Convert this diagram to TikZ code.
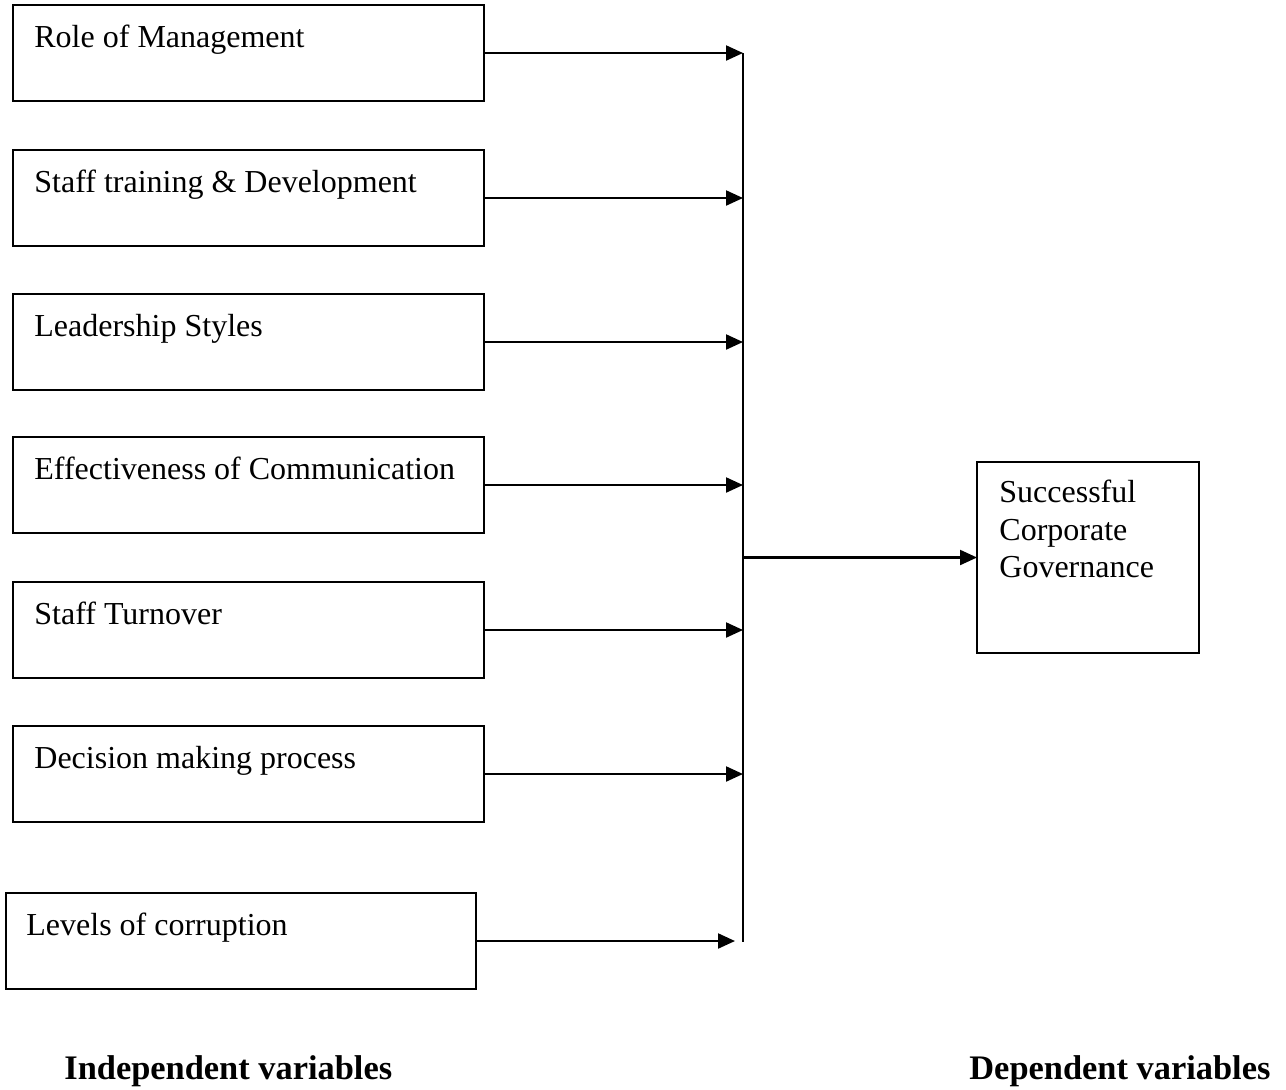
\documentclass[tikz,border=0pt]{standalone}
\usepackage{fontspec}
\setmainfont{Liberation Serif}
\usetikzlibrary{arrows.meta}
\begin{document}
\begin{tikzpicture}[x=0.5pt,y=-0.5pt,
  box/.style={draw,line width=0.9pt,inner sep=0pt,outer sep=0pt},
  lbl/.style={anchor=base west,inner sep=0pt,font=\fontsize{16}{18.75}\selectfont},
  blbl/.style={anchor=base west,inner sep=0pt,font=\fontsize{17.2}{20}\selectfont\bfseries},
  arr/.style={line width=1.1pt,-{Triangle[length=8.5pt,width=7.5pt]}},
  bus/.style={line width=1.1pt}]
\useasboundingbox (0,0) rectangle (1286,1089);
% left boxes
\foreach \i/\t/\txt in {1/5/Role of Management,2/150/Staff training \& Development,3/294/Leadership Styles,4/437/Effectiveness of Communication,5/582/Staff Turnover,6/726/Decision making process}{
  \node[box,minimum width=235.5pt,minimum height=48pt,anchor=north west] (b\i) at (13,\t) {};
  \node[lbl] (t\i) at ([xshift=10.5pt,yshift=-21pt]b\i.north west) {\txt};
}
\node[box,minimum width=235pt,minimum height=48pt,anchor=north west] (b7) at (6,893) {};
\node[lbl] (t7) at ([xshift=10pt,yshift=-21pt]b7.north west) {Levels of corruption};
% right box
\node[box,minimum width=111pt,minimum height=95.5pt,anchor=north west] (rb) at (977,462) {};
\node[lbl,align=left,anchor=north west] (rt) at ([xshift=11pt,yshift=-9pt]rb.north west) {Successful\\Corporate\\Governance};
% bus
\coordinate (top) at (743,53);
\coordinate (bot) at (743,942);
\draw[bus] (top) -- (bot);
\foreach \i in {1,...,6}{
  \coordinate (j\i) at (b\i.east -| top);
  \draw[arr] (b\i.east) -- (j\i);
}
\coordinate (j7) at ([xshift=-4pt]b7.east -| top);
\draw[arr] (b7.east) -- (j7);
\coordinate (mid) at (rb.west -| top);
\draw[arr] (mid) -- (rb.west);
% labels
\node[blbl] (iv) at (64,1079) {Independent variables};
\node[blbl] (dv) at (969,1079) {Dependent variables};
\end{tikzpicture}
\end{document}
